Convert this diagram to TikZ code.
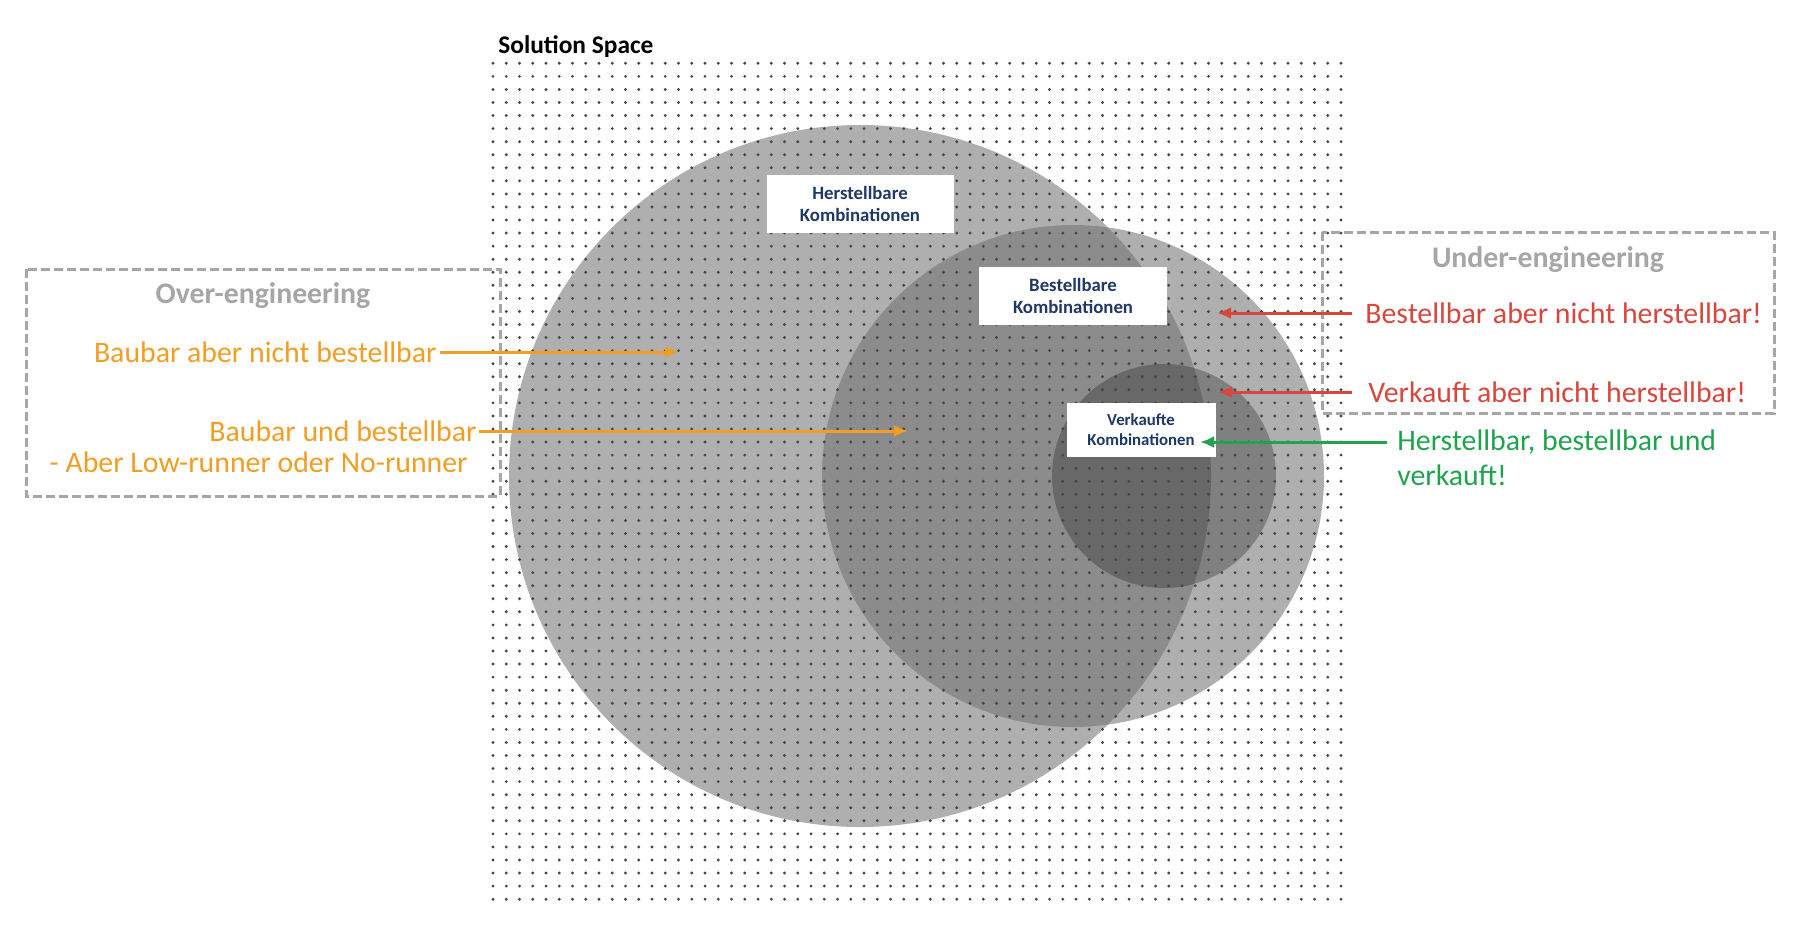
\documentclass[tikz,border=0pt]{standalone}
\usepackage{fontspec}
\setmainfont{Carlito}
\usepackage{tikz}
\usetikzlibrary{arrows.meta, calc}
\definecolor{kombiNavy}{RGB}{31,56,100}
\definecolor{overOrange}{RGB}{242,157,35}
\definecolor{underRed}{RGB}{216,70,62}
\definecolor{okGreen}{RGB}{30,164,78}
\definecolor{frameGray}{RGB}{166,166,166}
\definecolor{circleGray}{RGB}{110,110,110}
\definecolor{coreGray}{RGB}{40,40,40}
\definecolor{dotGray}{RGB}{70,70,70}
\def\pxunit{0.5pt}
\newcommand{\labelfont}{\fontsize{14.9}{17}\selectfont}

\begin{document}
\begin{tikzpicture}[x=\pxunit, y=-\pxunit,
	kombi/.style={fill=white, text=kombiNavy, font=\bfseries\fontsize{9.4}{11}\selectfont, align=center, inner sep=0pt},
	region/.style={line width=1.5pt, draw=frameGray, dash pattern=on 4.5pt off 2pt},
	pointer/.style={line width=1.5pt, -{Latex[length=7pt, width=6pt]}}]

	\useasboundingbox (0,0) rectangle (1813,944);

	\coordinate (H) at (860,476);
	\coordinate (B) at (1073,476);
	\coordinate (V) at (1164,476);

	\fill[circleGray, fill opacity=0.55] (H) circle (351);
	\fill[circleGray, fill opacity=0.55] (B) circle (251);
	\fill[coreGray, fill opacity=0.35] (V) circle (112);

	% solution space dots
	\foreach \i in {0,...,64}
		\foreach \j in {0,...,64}
			\fill[dotGray] ({493+13.25*\i},{63.3+13.06*\j}) circle (1.6);

	\draw[region] (26,269) rectangle (500,496);
	\draw[region] (1322,232) rectangle (1774,413);

	\node[kombi, minimum width=93.5pt, minimum height=29pt] (herstBox) at (860,204) {Herstellbare\\Kombinationen};
	\node[kombi, minimum width=94pt, minimum height=29pt] (bestBox) at (1073,296) {Bestellbare\\Kombinationen};
	\node[kombi, minimum width=74.5pt, minimum height=27pt, font=\bfseries\fontsize{8.4}{10}\selectfont] (verkBox) at (1141,430) {Verkaufte\\Kombinationen};

	\node[font=\bfseries\fontsize{12.7}{15}\selectfont, anchor=base west, inner sep=0pt] (solutionLabel) at (498,53) {Solution Space};
	\node[text=frameGray, font=\bfseries\labelfont, anchor=base, inner sep=0pt] (overLabel) at (263,303) {Over-engineering};
	\node[text=frameGray, font=\bfseries\labelfont, anchor=base, inner sep=0pt] (underLabel) at (1548,267) {Under-engineering};

	\node[text=overOrange, font=\labelfont, anchor=east, inner xsep=1.5pt, inner ysep=0pt] (baubarNicht) at (440,352) {Baubar aber nicht bestellbar};
	\node[text=overOrange, font=\labelfont, anchor=east, inner xsep=1pt, inner ysep=0pt] (baubarUnd) at (479,431) {Baubar und bestellbar};
	\node[text=overOrange, font=\labelfont, anchor=base east, inner sep=0pt] (lowRunner) at (468,472) {- Aber Low-runner oder No-runner};

	\node[text=underRed, font=\labelfont, anchor=west, inner xsep=6.5pt, inner ysep=0pt] (bestNicht) at (1352,313) {Bestellbar aber nicht herstellbar!};
	\node[text=underRed, font=\labelfont, anchor=west, inner xsep=8pt, inner ysep=0pt] (verkNicht) at (1352,392) {Verkauft aber nicht herstellbar!};
	\node[text=okGreen, font=\labelfont, anchor=west, inner xsep=5pt, inner ysep=0pt] (alleDrei) at (1387,442) {Herstellbar, bestellbar und};
	\node[text=okGreen, font=\labelfont, anchor=base west, inner sep=0pt] (alleDreiB) at (1397,485) {verkauft!};

	\coordinate (overTip) at (679,352);
	\coordinate (bestTip) at (908,431);
	\coordinate (bestNichtTip) at (1217,313);
	\coordinate (verkNichtTip) at (1218,392);
	\coordinate (alleTip) at (1200,442);

	\draw[pointer, overOrange] (baubarNicht.east) -- (overTip);
	\draw[pointer, overOrange] (baubarUnd.east) -- (bestTip);
	\draw[pointer, underRed] (bestNicht.west) -- (bestNichtTip);
	\draw[pointer, underRed] (verkNicht.west) -- (verkNichtTip);
	\draw[pointer, okGreen] (alleDrei.west) -- (alleTip);

\end{tikzpicture}
\end{document}
